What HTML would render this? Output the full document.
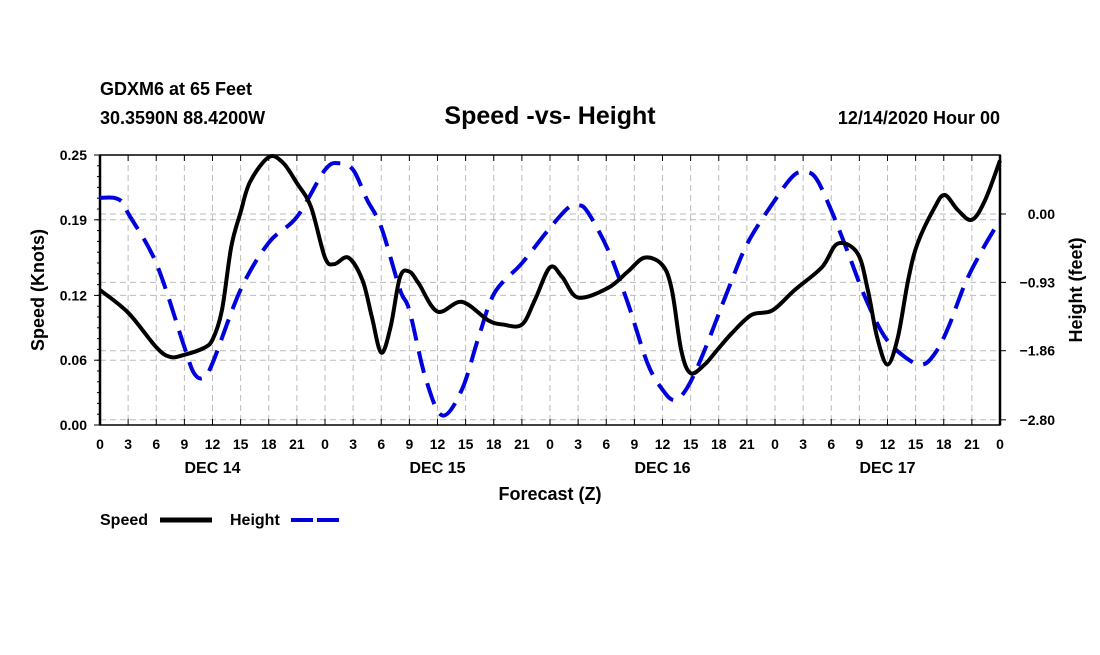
<!DOCTYPE html>
<html><head><meta charset="utf-8"><style>
body{margin:0;background:#fff;width:1100px;height:650px;overflow:hidden;font-family:"Liberation Sans",sans-serif}
svg text{font-family:"Liberation Sans",sans-serif;font-weight:bold}
</style></head><body>
<svg id="c" width="1100" height="650"></svg>
<script>
const hoursS=[0,3,6,7.5,9,11,12,13,14,15,16,18,19.5,21,22.5,24,25,26.5,28,29,30,31,32,33,34,36,38.6,41.4,43,45,46.4,48,49.3,51,54.2,56.3,58.1,60,61,62,63,64.5,65.6,67.4,69.5,71.7,74.1,77,78.7,80.8,81.9,82.9,84,85.1,86.2,87.2,89,90.1,91.5,93,94.4,96];
const speed=[0.125,0.104,0.072,0.063,0.065,0.071,0.079,0.106,0.165,0.197,0.225,0.248,0.243,0.224,0.202,0.155,0.149,0.155,0.134,0.100,0.067,0.091,0.137,0.142,0.131,0.105,0.114,0.097,0.093,0.093,0.116,0.146,0.137,0.118,0.127,0.142,0.155,0.148,0.125,0.069,0.048,0.056,0.067,0.085,0.102,0.106,0.125,0.146,0.168,0.159,0.125,0.081,0.056,0.081,0.134,0.168,0.201,0.213,0.199,0.190,0.208,0.245];
const hoursH=[0,1.5,2.5,3,6,9,10,11,12,15,18,21,24,25.5,27,28.5,30,32,33,34.7,36.5,38.6,40.4,42.1,45,47.8,49.9,51,52,54.2,56.3,58.4,60,61.3,62.7,64.5,67,69.1,72,73.8,74.9,76.3,78,79.8,81.6,83.7,85.9,87.7,89.1,90.5,92.3,94.1,96];
const height=[0.22,0.22,0.15,0.01,-0.67,-1.81,-2.16,-2.23,-2.03,-1.03,-0.39,-0.04,0.60,0.69,0.60,0.19,-0.18,-1.03,-1.31,-2.22,-2.74,-2.39,-1.67,-1.07,-0.67,-0.22,0.08,0.12,0.03,-0.49,-1.21,-2.03,-2.39,-2.53,-2.35,-1.85,-1.03,-0.39,0.19,0.50,0.57,0.50,0.05,-0.53,-1.13,-1.67,-1.95,-2.05,-1.89,-1.54,-0.94,-0.49,-0.08];
const xTicks=[0,3,6,9,12,15,18,21,0,3,6,9,12,15,18,21,0,3,6,9,12,15,18,21,0,3,6,9,12,15,18,21,0];
const days=["DEC 14","DEC 15","DEC 16","DEC 17"];
const lTicks=[0,0.06,0.12,0.19,0.25];
const rTicks=[0,-0.93,-1.86,-2.8];
const L=100,R=1000,T=155,B=425;
const X=h=>L+h*(R-L)/96, YL=v=>B-v*(B-T)/0.25, YR=v=>214-v*73.5;
const svg=document.getElementById('c');const NS='http://www.w3.org/2000/svg';
function el(t,a,txt){const e=document.createElementNS(NS,t);for(const k in a)e.setAttribute(k,a[k]);if(txt!==undefined)e.textContent=txt;svg.appendChild(e);return e;}
function txt(x,y,s,size,anchor,name,extra){const e=el('text',Object.assign({x:x,y:y,'font-size':size,'text-anchor':anchor||'start'},extra||{}),s);return e;}
for(let i=1;i<32;i++){const g=el('line',{x1:X(i*3),x2:X(i*3),y1:T,y2:B,stroke:'#bbb','stroke-dasharray':'6,4'});}
lTicks.slice(1,4).forEach(v=>{const g=el('line',{x1:L,x2:R,y1:YL(v),y2:YL(v),stroke:'#bbb','stroke-dasharray':'6,4'});});
rTicks.forEach(v=>{const g=el('line',{x1:L,x2:R,y1:YR(v),y2:YR(v),stroke:'#bbb','stroke-dasharray':'6,4'});});
const fr=el('rect',{x:L,y:T,width:R-L,height:B-T,fill:'none',stroke:'#000','stroke-width':1.5});
el('line',{x1:L,x2:L,y1:T,y2:B,stroke:'#000','stroke-width':2.5});el('line',{x1:R,x2:R,y1:T,y2:B,stroke:'#000','stroke-width':2.5});
xTicks.forEach((t,i)=>{el('line',{x1:X(i*3),x2:X(i*3),y1:B,y2:B-6,stroke:'#000'});el('line',{x1:X(i*3),x2:X(i*3),y1:T,y2:T+6,stroke:'#000'});txt(X(i*3),449,String(t),14,'middle','x-tick-label');});
days.forEach((d,i)=>txt(X(12+24*i),473,d,16,'middle','day-label'));
lTicks.forEach(v=>{el('line',{x1:L-6,x2:L,y1:YL(v),y2:YL(v),stroke:'#000'});txt(L-13,YL(v)+5,v.toFixed(2),14,'end','left-tick-label');});
for(let v=0;v<=0.25;v+=0.01){el('line',{x1:L-3,x2:L,y1:YL(v),y2:YL(v),stroke:'#000'});}
rTicks.forEach(v=>{el('line',{x1:R,x2:R+6,y1:YR(v),y2:YR(v),stroke:'#000'});txt(R+55,YR(v)+5,v===0?'0.00':'\u2212'+Math.abs(v).toFixed(2),14,'end','right-tick-label');});
function path(hs,vs,f){const p=hs.map((h,i)=>[X(h),f(vs[i])]);let d='M'+p[0][0]+','+p[0][1];for(let i=0;i<p.length-1;i++){const p0=p[i-1]||p[i],p1=p[i],p2=p[i+1],p3=p[i+2]||p2;d+=` C${p1[0]+(p2[0]-p0[0])/6},${p1[1]+(p2[1]-p0[1])/6} ${p2[0]-(p3[0]-p1[0])/6},${p2[1]-(p3[1]-p1[1])/6} ${p2[0]},${p2[1]}`;}return d;}
const hl=el('path',{d:path(hoursH,height,YR),fill:'none',stroke:'#0000dd','stroke-width':4,'stroke-dasharray':'22,11'});
const sl=el('path',{d:path(hoursS,speed,YL),fill:'none',stroke:'#000','stroke-width':4,'stroke-linejoin':'round'});
txt(100,95,'GDXM6 at 65 Feet',18,'start','station-label');
txt(100,124,'30.3590N 88.4200W',18,'start','location-label');
txt(550,124,'Speed -vs- Height',25,'middle','chart-title');
txt(1000,124,'12/14/2020 Hour 00',18,'end','date-label');
txt(550,500,'Forecast (Z)',18,'middle','x-axis-title');
txt(0,0,'Speed (Knots)',18,'middle','left-axis-title',{transform:'translate(44,290) rotate(-90)'});
txt(0,0,'Height (feet)',18,'middle','right-axis-title',{transform:'translate(1082,290) rotate(-90)'});
txt(100,525,'Speed',16,'start','legend-speed-label');
const ls=el('line',{x1:160,x2:212,y1:520,y2:520,stroke:'#000','stroke-width':5});
txt(230,525,'Height',16,'start','legend-height-label');
const lh=el('line',{x1:291,x2:343,y1:520,y2:520,stroke:'#0000dd','stroke-width':4,'stroke-dasharray':'22,4'});
</script>
</body></html>
